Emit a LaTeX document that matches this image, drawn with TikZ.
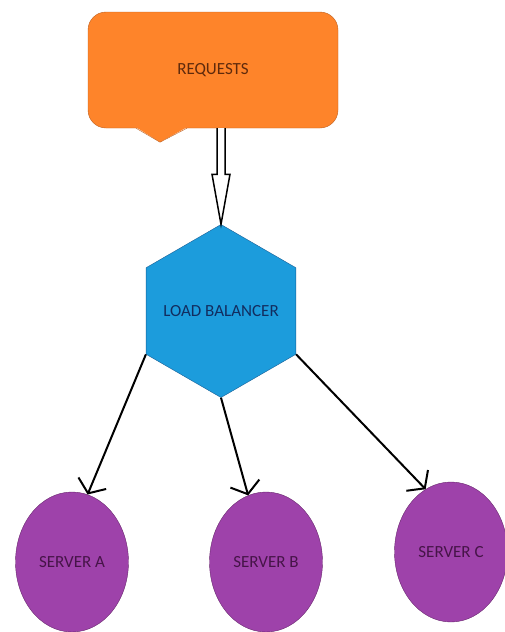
\documentclass[tikz,border=0pt]{standalone}
\usepackage{fontspec}
\setmainfont{Carlito}
\usepackage{xcolor}
\usetikzlibrary{shapes.geometric, arrows.meta, calc}

\definecolor{reqorange}{RGB}{254,132,42}
\definecolor{reqedge}{RGB}{190,95,30}
\definecolor{reqtext}{RGB}{95,42,12}
\definecolor{lbblue}{RGB}{28,156,220}
\definecolor{lbedge}{RGB}{25,95,150}
\definecolor{lbtext}{RGB}{18,45,95}
\definecolor{srvpurple}{RGB}{158,66,170}
\definecolor{srvedge}{RGB}{105,40,110}
\definecolor{srvtext}{RGB}{70,20,72}

\begin{document}
\begin{tikzpicture}[
  x=1pt, y=-1pt,
  reqbox/.style = {rectangle, draw=reqedge, fill=reqorange,
                   rounded corners=18pt, minimum width=250pt,
                   minimum height=116pt,
                   text=reqtext, font=\fontsize{17}{20}\selectfont},
  hexbox/.style = {regular polygon, regular polygon sides=6,
                   shape border rotate=30, draw=lbedge, fill=lbblue,
                   minimum size=173pt, inner sep=0pt,
                   text=lbtext, font=\fontsize{17}{20}\selectfont},
  srv/.style    = {ellipse, draw=srvedge, fill=srvpurple,
                   minimum width=113pt, minimum height=140pt, inner sep=0pt,
                   text=srvtext, font=\fontsize{17}{20}\selectfont},
  arr/.style    = {-{Straight Barb[length=11pt,width=30pt]}, line width=2pt}
]
\useasboundingbox (0,0) rectangle (504,632);

% Nodes
\node[reqbox] (req) at (213,70) {REQUESTS};
\node[hexbox] (lb) at (221,311) {\makebox[0pt]{LOAD BALANCER}};
\node[srv] (srvA) at (72,562) {SERVER A};
\node[srv] (srvB) at (266,562) {SERVER B};
\node[srv] (srvC) at (451,552) {SERVER C};

% Speech tail under the requests box
\coordinate (tip) at ($(req.south)+(-53,14)$);
\fill[reqorange] ($(req.south)+(-77,-1)$) -- (tip) -- ($(req.south)+(-26,-1)$) -- cycle;
\draw[reqedge] ($(req.south)+(-77,0)$) -- (tip) -- ($(req.south)+(-26,0)$);

% Hollow arrow into the balancer
\coordinate (top) at (req.south -| lb.north);
\draw[line width=1.5pt, fill=white, line join=miter]
  ($(top)+(-4,0)$) -- ($(lb.north)+(-4,-50)$) -- ($(lb.north)+(-9,-50)$)
  -- (lb.north) -- ($(lb.north)+(9,-50)$) -- ($(lb.north)+(4,-50)$)
  -- ($(top)+(4,0)$);

% Arrows
\draw[arr] (lb.210) -- (srvA.77);
\draw[arr] (lb.270) -- (srvB.105);
\draw[arr] (lb.330) -- (srvC.112);
\end{tikzpicture}
\end{document}
